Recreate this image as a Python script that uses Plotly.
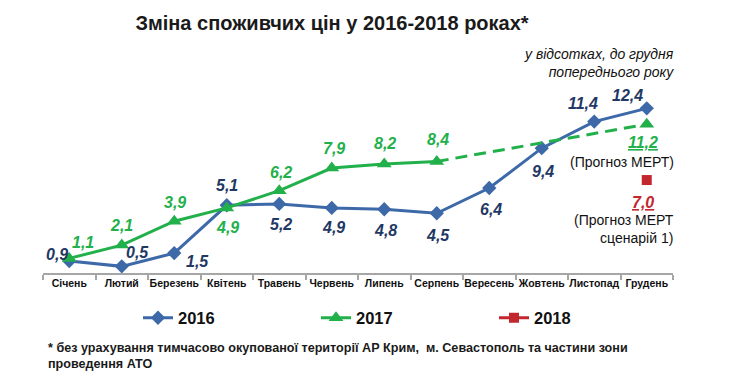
import plotly.graph_objects as go

months = ["Січень", "Лютий", "Березень", "Квітень", "Травень", "Червень",
          "Липень", "Серпень", "Вересень", "Жовтень", "Листопад", "Грудень"]
v2016 = [0.9, 0.5, 1.5, 5.1, 5.2, 4.9, 4.8, 4.5, 6.4, 9.4, 11.4, 12.4]
v2017 = [1.1, 2.1, 3.9, 4.9, 6.2, 7.9, 8.2, 8.4, None, None, None, 11.2]
v2018 = [None] * 11 + [7.0]

lab2016 = ["0,9", "0,5", "1,5", "5,1", "5,2", "4,9", "4,8", "4,5", "6,4", "9,4", "11,4", "12,4"]
lab2017 = ["1,1", "2,1", "3,9", "4,9", "6,2", "7,9", "8,2", "8,4", None, None, None, "11,2"]
lab2018 = [None] * 11 + ["7,0"]

# label offsets (px) relative to points
off2016 = [(-12, 7), (16, 14), (23, -8), (0, 20), (2, -21), (2, -20), (1, -21),
           (1, -22), (2, -21), (1, -23), (-11, 18), (-19, 13)]
off2017 = [(14, 16), (0, 20), (1, 19), (1, -20), (2, 18), (2, 20), (1, 21),
           (1, 22), None, None, None, (-4, -18)]
off2018 = [None] * 11 + [(-4, -22)]

C16_LINE = "#3D69A9"
C16_LAB = "#1F3864"
C17 = "#22B04B"
C18 = "#C1272D"
FONT = "Liberation Sans, Arial, sans-serif"

L, R, T, B = 43, 71, 94, 105
W, H = 744, 378
PW, PH = W - L - R, H - T - B


def px_x(px):
    return (px - L) / PW


def px_y(py):
    return (H - B - py) / PH


fig = go.Figure()
fig.add_trace(go.Scatter(
    x=months, y=v2016, name="2016", mode="lines+markers",
    line=dict(color=C16_LINE, width=3),
    marker=dict(symbol="diamond", size=11, color=C16_LINE),
    cliponaxis=False))

fig.add_trace(go.Scatter(
    x=months, y=v2017, name="2017", mode="lines+markers",
    line=dict(color=C17, width=3), connectgaps=False,
    marker=dict(symbol="triangle-up", size=13, color=C17),
    cliponaxis=False))

# dashed forecast segment for 2017
last_i = max(i for i in range(11) if v2017[i] is not None)
fig.add_trace(go.Scatter(
    x=[months[last_i], months[-1]], y=[v2017[last_i], v2017[-1]],
    mode="lines", line=dict(color=C17, width=3, dash="12px,7px"),
    showlegend=False, hoverinfo="skip", cliponaxis=False))

fig.add_trace(go.Scatter(
    x=months, y=v2018, name="2018", mode="lines+markers",
    line=dict(color=C18, width=3),
    marker=dict(symbol="square", size=10, color=C18),
    cliponaxis=False))

ann = []


def add_labels(vals, labs, offs, color, underline_last=False):
    for i, (v, t, o) in enumerate(zip(vals, labs, offs)):
        if v is None or t is None:
            continue
        txt = f"<u>{t}</u>" if (underline_last and i == len(vals) - 1) else t
        ann.append(dict(x=months[i], y=v, xref="x", yref="y", text=txt,
                        showarrow=False, xshift=o[0], yshift=o[1],
                        font=dict(family=FONT, size=16, color=color,
                                  weight="bold", style="italic")))


add_labels(v2016, lab2016, off2016, C16_LAB)
add_labels(v2017, lab2017, off2017, C17, underline_last=True)
add_labels(v2018, lab2018, off2018, C18, underline_last=True)

small = dict(family=FONT, size=14, color="#111111")
ann += [
    dict(x=px_x(676), y=px_y(162), xref="paper", yref="paper", xanchor="right",
         yanchor="middle", text="(Прогноз МЕРТ)", showarrow=False, font=small),
    dict(x=px_x(676), y=px_y(229), xref="paper", yref="paper", xanchor="right",
         yanchor="middle", text="(Прогноз МЕРТ<br>сценарій 1)", showarrow=False,
         align="right", font=small),
    dict(x=px_x(676), y=px_y(63), xref="paper", yref="paper", xanchor="right",
         yanchor="middle", text="у відсотках, до грудня<br>попереднього року",
         showarrow=False, align="right",
         font=dict(family=FONT, size=14, color="#111111", style="italic")),
    dict(x=px_x(46), y=px_y(356), xref="paper", yref="paper", xanchor="left",
         yanchor="middle",
         text="* без урахування тимчасово окупованої території АР Крим,  м. Севастополь та частини зони<br>проведення АТО",
         showarrow=False, align="left",
         font=dict(family=FONT, size=12.6, color="#1a1a1a", weight="bold")),
]

fig.update_layout(
    width=W, height=H,
    margin=dict(l=L, r=R, t=T, b=B, pad=0, autoexpand=False),
    paper_bgcolor="white", plot_bgcolor="white",
    title=dict(text="<b>Зміна споживчих цін у 2016-2018 роках*</b>",
               x=332 / W, xanchor="center", xref="container",
               y=1 - 23 / H, yanchor="middle", yref="container",
               font=dict(family=FONT, size=20, color="#1a1a1a")),
    xaxis=dict(type="category", range=[-0.5, 11.5], showgrid=False,
               showline=True, linecolor="#A6A6A6", linewidth=1.5,
               ticks="outside", tickson="boundaries", ticklen=5,
               tickcolor="#A6A6A6", tickwidth=1.5, tickangle=0, automargin=False,
               tickfont=dict(family=FONT, size=10.5, color="#111111", weight="bold"),
               fixedrange=True),
    yaxis=dict(range=[0, PH / 13.28], visible=False, showgrid=False,
               zeroline=False, fixedrange=True, automargin=False),
    legend=dict(orientation="h", x=px_x(138), y=px_y(318), xanchor="left",
                yanchor="middle", entrywidth=133, entrywidthmode="pixels",
                font=dict(family=FONT, size=16.5, color="#111111", weight="bold"),
                bgcolor="rgba(0,0,0,0)"),
    annotations=ann,
    showlegend=True,
)

fig.write_html("out.html", config={"displayModeBar": False},
               post_script="document.body.style.margin='0';")
